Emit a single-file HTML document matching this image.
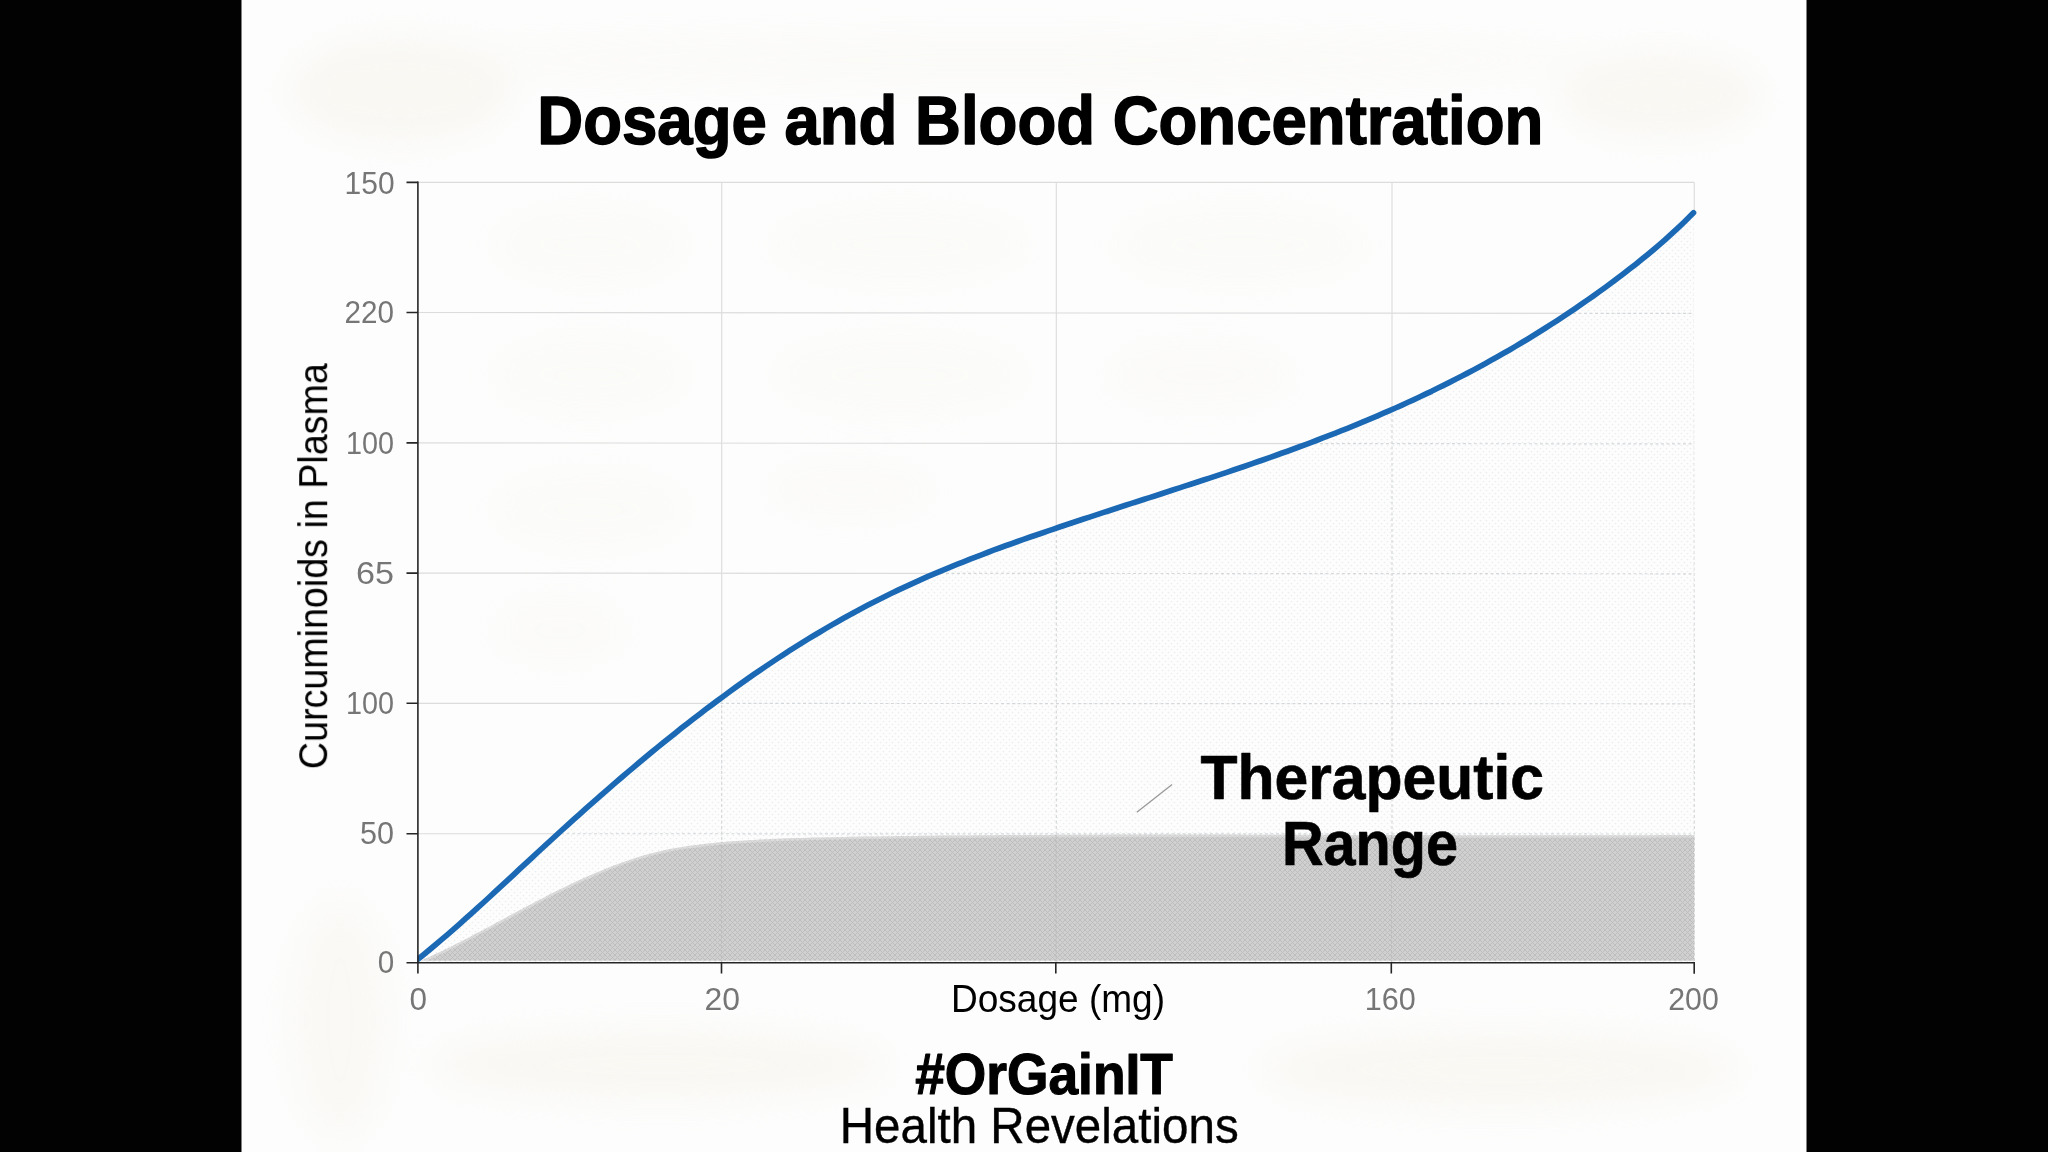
<!DOCTYPE html>
<html><head><meta charset="utf-8"><title>Dosage and Blood Concentration</title>
<style>
html,body{margin:0;padding:0;background:#020202;width:2048px;height:1152px;overflow:hidden}
svg{display:block;position:absolute;left:0;top:0}
text{font-family:"Liberation Sans",sans-serif}
.tick{font-size:32px;fill:#767676}
</style></head><body>
<svg width="2048" height="1152" viewBox="0 0 2048 1152">
<defs>
<pattern id="dots" width="6" height="6" patternUnits="userSpaceOnUse"><circle cx="1.5" cy="1.5" r="0.85" fill="#ebedee"/><circle cx="4.5" cy="4.5" r="0.85" fill="#ebedee"/></pattern>
<pattern id="hatch" width="5" height="5" patternUnits="userSpaceOnUse"><rect width="5" height="5" fill="#d0d0d0"/><path d="M0,0 L5,5 M5,0 L0,5" stroke="#bebebe" stroke-width="1"/></pattern>
<clipPath id="grayclip"><polygon points="418.0,961.9 424.0,959.3 430.0,956.6 436.0,953.8 442.0,950.9 448.0,948.0 454.0,945.0 460.0,942.0 466.0,938.9 472.0,935.7 478.0,932.6 484.0,929.4 490.0,926.2 496.0,922.9 502.0,919.7 508.0,916.5 514.0,913.2 520.0,910.0 526.0,906.8 532.0,903.7 538.0,900.5 544.0,897.4 550.0,894.3 556.0,891.3 562.0,888.4 568.0,885.4 574.0,882.6 580.0,879.8 586.0,877.1 592.0,874.4 598.0,871.9 604.0,869.4 610.0,867.0 616.0,864.7 622.0,862.5 628.0,860.4 634.0,858.4 640.0,856.5 646.0,854.8 652.0,853.2 658.0,851.7 664.0,850.3 670.0,849.1 676.0,847.9 682.0,846.9 688.0,846.0 694.0,845.2 700.0,844.4 706.0,843.8 712.0,843.2 718.0,842.6 724.0,842.1 730.0,841.6 736.0,841.1 742.0,840.7 748.0,840.3 754.0,840.0 760.0,839.6 766.0,839.3 772.0,839.0 778.0,838.8 784.0,838.5 790.0,838.3 796.0,838.1 802.0,837.9 808.0,837.7 814.0,837.6 820.0,837.4 826.0,837.3 832.0,837.2 838.0,837.1 844.0,836.9 850.0,836.8 856.0,836.7 862.0,836.6 868.0,836.6 874.0,836.5 880.0,836.4 886.0,836.3 892.0,836.2 898.0,836.1 904.0,836.1 910.0,836.0 916.0,835.9 922.0,835.8 928.0,835.8 934.0,835.7 940.0,835.6 946.0,835.6 952.0,835.5 958.0,835.5 964.0,835.4 970.0,835.4 976.0,835.3 982.0,835.3 988.0,835.2 994.0,835.2 1000.0,835.1 1006.0,835.1 1012.0,835.1 1018.0,835.0 1024.0,835.0 1030.0,834.9 1036.0,834.9 1042.0,834.9 1048.0,834.9 1054.0,834.8 1060.0,834.8 1066.0,834.8 1072.0,834.8 1078.0,834.7 1084.0,834.7 1090.0,834.7 1096.0,834.7 1102.0,834.7 1108.0,834.7 1114.0,834.6 1120.0,834.6 1126.0,834.6 1132.0,834.6 1138.0,834.6 1144.0,834.6 1150.0,834.6 1156.0,834.6 1162.0,834.6 1168.0,834.6 1174.0,834.6 1180.0,834.6 1186.0,834.6 1192.0,834.6 1198.0,834.6 1204.0,834.6 1210.0,834.6 1216.0,834.6 1222.0,834.6 1228.0,834.6 1234.0,834.6 1240.0,834.6 1246.0,834.7 1252.0,834.7 1258.0,834.7 1264.0,834.7 1270.0,834.7 1276.0,834.7 1282.0,834.7 1288.0,834.7 1294.0,834.8 1300.0,834.8 1306.0,834.8 1312.0,834.8 1318.0,834.8 1324.0,834.8 1330.0,834.8 1336.0,834.9 1342.0,834.9 1348.0,834.9 1354.0,834.9 1360.0,834.9 1366.0,834.9 1372.0,835.0 1378.0,835.0 1384.0,835.0 1390.0,835.0 1396.0,835.0 1402.0,835.0 1408.0,835.1 1414.0,835.1 1420.0,835.1 1426.0,835.1 1432.0,835.1 1438.0,835.1 1444.0,835.1 1450.0,835.2 1456.0,835.2 1462.0,835.2 1468.0,835.2 1474.0,835.2 1480.0,835.2 1486.0,835.2 1492.0,835.2 1498.0,835.2 1504.0,835.3 1510.0,835.3 1516.0,835.3 1522.0,835.3 1528.0,835.3 1534.0,835.3 1540.0,835.3 1546.0,835.3 1552.0,835.3 1558.0,835.3 1564.0,835.3 1570.0,835.3 1576.0,835.3 1582.0,835.3 1588.0,835.3 1594.0,835.3 1600.0,835.3 1606.0,835.3 1612.0,835.3 1618.0,835.2 1624.0,835.2 1630.0,835.2 1636.0,835.2 1642.0,835.2 1648.0,835.2 1654.0,835.2 1660.0,835.1 1666.0,835.1 1672.0,835.1 1678.0,835.1 1684.0,835.0 1690.0,835.0 1694.3,835.0 1694.3,962 418,962"/></clipPath>
<clipPath id="below"><polygon points="417.5,958.9 423.5,954.1 429.5,949.1 435.5,944.1 441.5,939.0 447.5,933.9 453.5,928.6 459.5,923.4 465.5,918.0 471.5,912.6 477.5,907.2 483.5,901.8 489.5,896.3 495.5,890.7 501.5,885.2 507.5,879.7 513.5,874.1 519.5,868.5 525.5,862.9 531.5,857.4 537.5,851.8 543.5,846.3 549.5,840.8 555.5,835.3 561.5,829.8 567.5,824.4 573.5,819.0 579.5,813.6 585.5,808.2 591.5,802.9 597.5,797.6 603.5,792.4 609.5,787.2 615.5,782.0 621.5,776.8 627.5,771.7 633.5,766.6 639.5,761.6 645.5,756.6 651.5,751.6 657.5,746.7 663.5,741.8 669.5,737.0 675.5,732.2 681.5,727.4 687.5,722.7 693.5,718.1 699.5,713.5 705.5,708.9 711.5,704.4 717.5,699.9 723.5,695.5 729.5,691.1 735.5,686.7 741.5,682.5 747.5,678.2 753.5,674.0 759.5,669.9 765.5,665.8 771.5,661.8 777.5,657.8 783.5,653.9 789.5,650.0 795.5,646.2 801.5,642.4 807.5,638.7 813.5,635.1 819.5,631.5 825.5,627.9 831.5,624.4 837.5,621.0 843.5,617.6 849.5,614.3 855.5,611.0 861.5,607.8 867.5,604.6 873.5,601.5 879.5,598.5 885.5,595.5 891.5,592.6 897.5,589.7 903.5,586.9 909.5,584.1 915.5,581.4 921.5,578.7 927.5,576.0 933.5,573.5 939.5,570.9 945.5,568.4 951.5,565.9 957.5,563.5 963.5,561.1 969.5,558.7 975.5,556.4 981.5,554.1 987.5,551.8 993.5,549.5 999.5,547.3 1005.5,545.1 1011.5,543.0 1017.5,540.8 1023.5,538.7 1029.5,536.6 1035.5,534.5 1041.5,532.5 1047.5,530.4 1053.5,528.4 1059.5,526.3 1065.5,524.3 1071.5,522.3 1077.5,520.3 1083.5,518.3 1089.5,516.4 1095.5,514.4 1101.5,512.4 1107.5,510.5 1113.5,508.5 1119.5,506.6 1125.5,504.6 1131.5,502.7 1137.5,500.8 1143.5,498.8 1149.5,496.9 1155.5,495.0 1161.5,493.0 1167.5,491.1 1173.5,489.1 1179.5,487.2 1185.5,485.2 1191.5,483.3 1197.5,481.3 1203.5,479.3 1209.5,477.4 1215.5,475.4 1221.5,473.4 1227.5,471.4 1233.5,469.3 1239.5,467.3 1245.5,465.3 1251.5,463.2 1257.5,461.1 1263.5,459.0 1269.5,456.9 1275.5,454.8 1281.5,452.6 1287.5,450.5 1293.5,448.3 1299.5,446.1 1305.5,443.9 1311.5,441.6 1317.5,439.3 1323.5,437.0 1329.5,434.7 1335.5,432.4 1341.5,430.0 1347.5,427.6 1353.5,425.2 1359.5,422.7 1365.5,420.2 1371.5,417.7 1377.5,415.1 1383.5,412.5 1389.5,409.9 1395.5,407.3 1401.5,404.6 1407.5,401.8 1413.5,399.1 1419.5,396.3 1425.5,393.4 1431.5,390.6 1437.5,387.6 1443.5,384.7 1449.5,381.7 1455.5,378.6 1461.5,375.5 1467.5,372.4 1473.5,369.2 1479.5,366.0 1485.5,362.7 1491.5,359.4 1497.5,356.0 1503.5,352.6 1509.5,349.2 1515.5,345.7 1521.5,342.1 1527.5,338.5 1533.5,334.8 1539.5,331.1 1545.5,327.3 1551.5,323.5 1557.5,319.6 1563.5,315.7 1569.5,311.7 1575.5,307.6 1581.5,303.5 1587.5,299.3 1593.5,295.1 1599.5,290.8 1605.5,286.5 1611.5,282.1 1617.5,277.6 1623.5,273.0 1629.5,268.4 1635.5,263.7 1641.5,258.9 1647.5,254.0 1653.5,249.0 1659.5,243.9 1665.5,238.6 1671.5,233.2 1677.5,227.7 1683.5,222.0 1689.5,216.1 1693.5,212.1 1696,962 418,962"/></clipPath>
<clipPath id="above"><polygon points="417.5,958.9 423.5,954.1 429.5,949.1 435.5,944.1 441.5,939.0 447.5,933.9 453.5,928.6 459.5,923.4 465.5,918.0 471.5,912.6 477.5,907.2 483.5,901.8 489.5,896.3 495.5,890.7 501.5,885.2 507.5,879.7 513.5,874.1 519.5,868.5 525.5,862.9 531.5,857.4 537.5,851.8 543.5,846.3 549.5,840.8 555.5,835.3 561.5,829.8 567.5,824.4 573.5,819.0 579.5,813.6 585.5,808.2 591.5,802.9 597.5,797.6 603.5,792.4 609.5,787.2 615.5,782.0 621.5,776.8 627.5,771.7 633.5,766.6 639.5,761.6 645.5,756.6 651.5,751.6 657.5,746.7 663.5,741.8 669.5,737.0 675.5,732.2 681.5,727.4 687.5,722.7 693.5,718.1 699.5,713.5 705.5,708.9 711.5,704.4 717.5,699.9 723.5,695.5 729.5,691.1 735.5,686.7 741.5,682.5 747.5,678.2 753.5,674.0 759.5,669.9 765.5,665.8 771.5,661.8 777.5,657.8 783.5,653.9 789.5,650.0 795.5,646.2 801.5,642.4 807.5,638.7 813.5,635.1 819.5,631.5 825.5,627.9 831.5,624.4 837.5,621.0 843.5,617.6 849.5,614.3 855.5,611.0 861.5,607.8 867.5,604.6 873.5,601.5 879.5,598.5 885.5,595.5 891.5,592.6 897.5,589.7 903.5,586.9 909.5,584.1 915.5,581.4 921.5,578.7 927.5,576.0 933.5,573.5 939.5,570.9 945.5,568.4 951.5,565.9 957.5,563.5 963.5,561.1 969.5,558.7 975.5,556.4 981.5,554.1 987.5,551.8 993.5,549.5 999.5,547.3 1005.5,545.1 1011.5,543.0 1017.5,540.8 1023.5,538.7 1029.5,536.6 1035.5,534.5 1041.5,532.5 1047.5,530.4 1053.5,528.4 1059.5,526.3 1065.5,524.3 1071.5,522.3 1077.5,520.3 1083.5,518.3 1089.5,516.4 1095.5,514.4 1101.5,512.4 1107.5,510.5 1113.5,508.5 1119.5,506.6 1125.5,504.6 1131.5,502.7 1137.5,500.8 1143.5,498.8 1149.5,496.9 1155.5,495.0 1161.5,493.0 1167.5,491.1 1173.5,489.1 1179.5,487.2 1185.5,485.2 1191.5,483.3 1197.5,481.3 1203.5,479.3 1209.5,477.4 1215.5,475.4 1221.5,473.4 1227.5,471.4 1233.5,469.3 1239.5,467.3 1245.5,465.3 1251.5,463.2 1257.5,461.1 1263.5,459.0 1269.5,456.9 1275.5,454.8 1281.5,452.6 1287.5,450.5 1293.5,448.3 1299.5,446.1 1305.5,443.9 1311.5,441.6 1317.5,439.3 1323.5,437.0 1329.5,434.7 1335.5,432.4 1341.5,430.0 1347.5,427.6 1353.5,425.2 1359.5,422.7 1365.5,420.2 1371.5,417.7 1377.5,415.1 1383.5,412.5 1389.5,409.9 1395.5,407.3 1401.5,404.6 1407.5,401.8 1413.5,399.1 1419.5,396.3 1425.5,393.4 1431.5,390.6 1437.5,387.6 1443.5,384.7 1449.5,381.7 1455.5,378.6 1461.5,375.5 1467.5,372.4 1473.5,369.2 1479.5,366.0 1485.5,362.7 1491.5,359.4 1497.5,356.0 1503.5,352.6 1509.5,349.2 1515.5,345.7 1521.5,342.1 1527.5,338.5 1533.5,334.8 1539.5,331.1 1545.5,327.3 1551.5,323.5 1557.5,319.6 1563.5,315.7 1569.5,311.7 1575.5,307.6 1581.5,303.5 1587.5,299.3 1593.5,295.1 1599.5,290.8 1605.5,286.5 1611.5,282.1 1617.5,277.6 1623.5,273.0 1629.5,268.4 1635.5,263.7 1641.5,258.9 1647.5,254.0 1653.5,249.0 1659.5,243.9 1665.5,238.6 1671.5,233.2 1677.5,227.7 1683.5,222.0 1689.5,216.1 1693.5,212.1 1696,212 1696,170 400,170 400,962 418,962"/></clipPath>
<filter id="blur" x="-50%" y="-50%" width="200%" height="200%"><feGaussianBlur stdDeviation="18"/></filter>
<clipPath id="plotclip"><rect x="417.4" y="150" width="1300" height="812.4"/></clipPath>
</defs>
<rect x="0" y="0" width="2048" height="1152" fill="#020202"/>
<rect x="241.5" y="0" width="1565" height="1152" fill="#fdfdfd"/>
<!-- faint paper blotches -->
<g filter="url(#blur)" fill="#f3efe2" opacity="0.38">
<ellipse cx="400" cy="90" rx="110" ry="50"/>
<ellipse cx="1660" cy="95" rx="100" ry="40"/>
<ellipse cx="1000" cy="60" rx="600" ry="22" opacity="0.5"/>
<ellipse cx="340" cy="1020" rx="50" ry="120" opacity="0.7"/>
<ellipse cx="660" cy="1065" rx="230" ry="32"/>
<ellipse cx="1500" cy="1070" rx="240" ry="35"/>
<ellipse cx="590" cy="245" rx="100" ry="38" opacity="0.4"/>
<ellipse cx="900" cy="245" rx="130" ry="38" opacity="0.4"/>
<ellipse cx="1240" cy="245" rx="130" ry="38" opacity="0.4"/>
<ellipse cx="590" cy="375" rx="100" ry="38" opacity="0.4"/>
<ellipse cx="900" cy="375" rx="130" ry="38" opacity="0.4"/>
<ellipse cx="1200" cy="375" rx="100" ry="35" opacity="0.35"/>
<ellipse cx="590" cy="510" rx="100" ry="38" opacity="0.4"/>
<ellipse cx="850" cy="490" rx="90" ry="30" opacity="0.35"/>
<ellipse cx="560" cy="630" rx="70" ry="35" opacity="0.35"/>
</g>
<!-- dotted fill under curve -->
<polygon points="417.5,958.9 423.5,954.1 429.5,949.1 435.5,944.1 441.5,939.0 447.5,933.9 453.5,928.6 459.5,923.4 465.5,918.0 471.5,912.6 477.5,907.2 483.5,901.8 489.5,896.3 495.5,890.7 501.5,885.2 507.5,879.7 513.5,874.1 519.5,868.5 525.5,862.9 531.5,857.4 537.5,851.8 543.5,846.3 549.5,840.8 555.5,835.3 561.5,829.8 567.5,824.4 573.5,819.0 579.5,813.6 585.5,808.2 591.5,802.9 597.5,797.6 603.5,792.4 609.5,787.2 615.5,782.0 621.5,776.8 627.5,771.7 633.5,766.6 639.5,761.6 645.5,756.6 651.5,751.6 657.5,746.7 663.5,741.8 669.5,737.0 675.5,732.2 681.5,727.4 687.5,722.7 693.5,718.1 699.5,713.5 705.5,708.9 711.5,704.4 717.5,699.9 723.5,695.5 729.5,691.1 735.5,686.7 741.5,682.5 747.5,678.2 753.5,674.0 759.5,669.9 765.5,665.8 771.5,661.8 777.5,657.8 783.5,653.9 789.5,650.0 795.5,646.2 801.5,642.4 807.5,638.7 813.5,635.1 819.5,631.5 825.5,627.9 831.5,624.4 837.5,621.0 843.5,617.6 849.5,614.3 855.5,611.0 861.5,607.8 867.5,604.6 873.5,601.5 879.5,598.5 885.5,595.5 891.5,592.6 897.5,589.7 903.5,586.9 909.5,584.1 915.5,581.4 921.5,578.7 927.5,576.0 933.5,573.5 939.5,570.9 945.5,568.4 951.5,565.9 957.5,563.5 963.5,561.1 969.5,558.7 975.5,556.4 981.5,554.1 987.5,551.8 993.5,549.5 999.5,547.3 1005.5,545.1 1011.5,543.0 1017.5,540.8 1023.5,538.7 1029.5,536.6 1035.5,534.5 1041.5,532.5 1047.5,530.4 1053.5,528.4 1059.5,526.3 1065.5,524.3 1071.5,522.3 1077.5,520.3 1083.5,518.3 1089.5,516.4 1095.5,514.4 1101.5,512.4 1107.5,510.5 1113.5,508.5 1119.5,506.6 1125.5,504.6 1131.5,502.7 1137.5,500.8 1143.5,498.8 1149.5,496.9 1155.5,495.0 1161.5,493.0 1167.5,491.1 1173.5,489.1 1179.5,487.2 1185.5,485.2 1191.5,483.3 1197.5,481.3 1203.5,479.3 1209.5,477.4 1215.5,475.4 1221.5,473.4 1227.5,471.4 1233.5,469.3 1239.5,467.3 1245.5,465.3 1251.5,463.2 1257.5,461.1 1263.5,459.0 1269.5,456.9 1275.5,454.8 1281.5,452.6 1287.5,450.5 1293.5,448.3 1299.5,446.1 1305.5,443.9 1311.5,441.6 1317.5,439.3 1323.5,437.0 1329.5,434.7 1335.5,432.4 1341.5,430.0 1347.5,427.6 1353.5,425.2 1359.5,422.7 1365.5,420.2 1371.5,417.7 1377.5,415.1 1383.5,412.5 1389.5,409.9 1395.5,407.3 1401.5,404.6 1407.5,401.8 1413.5,399.1 1419.5,396.3 1425.5,393.4 1431.5,390.6 1437.5,387.6 1443.5,384.7 1449.5,381.7 1455.5,378.6 1461.5,375.5 1467.5,372.4 1473.5,369.2 1479.5,366.0 1485.5,362.7 1491.5,359.4 1497.5,356.0 1503.5,352.6 1509.5,349.2 1515.5,345.7 1521.5,342.1 1527.5,338.5 1533.5,334.8 1539.5,331.1 1545.5,327.3 1551.5,323.5 1557.5,319.6 1563.5,315.7 1569.5,311.7 1575.5,307.6 1581.5,303.5 1587.5,299.3 1593.5,295.1 1599.5,290.8 1605.5,286.5 1611.5,282.1 1617.5,277.6 1623.5,273.0 1629.5,268.4 1635.5,263.7 1641.5,258.9 1647.5,254.0 1653.5,249.0 1659.5,243.9 1665.5,238.6 1671.5,233.2 1677.5,227.7 1683.5,222.0 1689.5,216.1 1693.5,212.1 1694.3,962 418,962" fill="url(#dots)"/>
<!-- grid -->
<g stroke="#dcdcdc" stroke-width="1.15" fill="none" clip-path="url(#above)">
<path d="M418,182.4H1694.3 M418,312.5L1694.3,313.4 M418,442.9L1694.3,443.9 M418,573.1L1694.3,573.8 M418,703.3L1694.3,703.8 M418,833.7L1694.3,834"/>
<path d="M721.7,182.4V962 M1056.3,182.4V962 M1392,182.4V962 M1694.3,182.4V962"/>
</g>
<g stroke="#d4d8da" stroke-width="1.2" fill="none" stroke-dasharray="3 2.5" clip-path="url(#below)">
<path d="M418,312.5L1694.3,313.4 M418,442.9L1694.3,443.9 M418,573.1L1694.3,573.8 M418,703.3L1694.3,703.8 M418,833.7L1694.3,834"/>
<path d="M721.7,182.4V962 M1056.3,182.4V962 M1392,182.4V962 M1694.3,182.4V962"/>
</g>
<!-- gray range -->
<polygon points="418.0,961.9 424.0,959.3 430.0,956.6 436.0,953.8 442.0,950.9 448.0,948.0 454.0,945.0 460.0,942.0 466.0,938.9 472.0,935.7 478.0,932.6 484.0,929.4 490.0,926.2 496.0,922.9 502.0,919.7 508.0,916.5 514.0,913.2 520.0,910.0 526.0,906.8 532.0,903.7 538.0,900.5 544.0,897.4 550.0,894.3 556.0,891.3 562.0,888.4 568.0,885.4 574.0,882.6 580.0,879.8 586.0,877.1 592.0,874.4 598.0,871.9 604.0,869.4 610.0,867.0 616.0,864.7 622.0,862.5 628.0,860.4 634.0,858.4 640.0,856.5 646.0,854.8 652.0,853.2 658.0,851.7 664.0,850.3 670.0,849.1 676.0,847.9 682.0,846.9 688.0,846.0 694.0,845.2 700.0,844.4 706.0,843.8 712.0,843.2 718.0,842.6 724.0,842.1 730.0,841.6 736.0,841.1 742.0,840.7 748.0,840.3 754.0,840.0 760.0,839.6 766.0,839.3 772.0,839.0 778.0,838.8 784.0,838.5 790.0,838.3 796.0,838.1 802.0,837.9 808.0,837.7 814.0,837.6 820.0,837.4 826.0,837.3 832.0,837.2 838.0,837.1 844.0,836.9 850.0,836.8 856.0,836.7 862.0,836.6 868.0,836.6 874.0,836.5 880.0,836.4 886.0,836.3 892.0,836.2 898.0,836.1 904.0,836.1 910.0,836.0 916.0,835.9 922.0,835.8 928.0,835.8 934.0,835.7 940.0,835.6 946.0,835.6 952.0,835.5 958.0,835.5 964.0,835.4 970.0,835.4 976.0,835.3 982.0,835.3 988.0,835.2 994.0,835.2 1000.0,835.1 1006.0,835.1 1012.0,835.1 1018.0,835.0 1024.0,835.0 1030.0,834.9 1036.0,834.9 1042.0,834.9 1048.0,834.9 1054.0,834.8 1060.0,834.8 1066.0,834.8 1072.0,834.8 1078.0,834.7 1084.0,834.7 1090.0,834.7 1096.0,834.7 1102.0,834.7 1108.0,834.7 1114.0,834.6 1120.0,834.6 1126.0,834.6 1132.0,834.6 1138.0,834.6 1144.0,834.6 1150.0,834.6 1156.0,834.6 1162.0,834.6 1168.0,834.6 1174.0,834.6 1180.0,834.6 1186.0,834.6 1192.0,834.6 1198.0,834.6 1204.0,834.6 1210.0,834.6 1216.0,834.6 1222.0,834.6 1228.0,834.6 1234.0,834.6 1240.0,834.6 1246.0,834.7 1252.0,834.7 1258.0,834.7 1264.0,834.7 1270.0,834.7 1276.0,834.7 1282.0,834.7 1288.0,834.7 1294.0,834.8 1300.0,834.8 1306.0,834.8 1312.0,834.8 1318.0,834.8 1324.0,834.8 1330.0,834.8 1336.0,834.9 1342.0,834.9 1348.0,834.9 1354.0,834.9 1360.0,834.9 1366.0,834.9 1372.0,835.0 1378.0,835.0 1384.0,835.0 1390.0,835.0 1396.0,835.0 1402.0,835.0 1408.0,835.1 1414.0,835.1 1420.0,835.1 1426.0,835.1 1432.0,835.1 1438.0,835.1 1444.0,835.1 1450.0,835.2 1456.0,835.2 1462.0,835.2 1468.0,835.2 1474.0,835.2 1480.0,835.2 1486.0,835.2 1492.0,835.2 1498.0,835.2 1504.0,835.3 1510.0,835.3 1516.0,835.3 1522.0,835.3 1528.0,835.3 1534.0,835.3 1540.0,835.3 1546.0,835.3 1552.0,835.3 1558.0,835.3 1564.0,835.3 1570.0,835.3 1576.0,835.3 1582.0,835.3 1588.0,835.3 1594.0,835.3 1600.0,835.3 1606.0,835.3 1612.0,835.3 1618.0,835.2 1624.0,835.2 1630.0,835.2 1636.0,835.2 1642.0,835.2 1648.0,835.2 1654.0,835.2 1660.0,835.1 1666.0,835.1 1672.0,835.1 1678.0,835.1 1684.0,835.0 1690.0,835.0 1694.3,835.0 1694.3,960.7 418,960.7" fill="url(#hatch)"/>
<polyline points="418.0,961.9 424.0,959.3 430.0,956.6 436.0,953.8 442.0,950.9 448.0,948.0 454.0,945.0 460.0,942.0 466.0,938.9 472.0,935.7 478.0,932.6 484.0,929.4 490.0,926.2 496.0,922.9 502.0,919.7 508.0,916.5 514.0,913.2 520.0,910.0 526.0,906.8 532.0,903.7 538.0,900.5 544.0,897.4 550.0,894.3 556.0,891.3 562.0,888.4 568.0,885.4 574.0,882.6 580.0,879.8 586.0,877.1 592.0,874.4 598.0,871.9 604.0,869.4 610.0,867.0 616.0,864.7 622.0,862.5 628.0,860.4 634.0,858.4 640.0,856.5 646.0,854.8 652.0,853.2 658.0,851.7 664.0,850.3 670.0,849.1 676.0,847.9 682.0,846.9 688.0,846.0 694.0,845.2 700.0,844.4 706.0,843.8 712.0,843.2 718.0,842.6 724.0,842.1 730.0,841.6 736.0,841.1 742.0,840.7 748.0,840.3 754.0,840.0 760.0,839.6 766.0,839.3 772.0,839.0 778.0,838.8 784.0,838.5 790.0,838.3 796.0,838.1 802.0,837.9 808.0,837.7 814.0,837.6 820.0,837.4 826.0,837.3 832.0,837.2 838.0,837.1 844.0,836.9 850.0,836.8 856.0,836.7 862.0,836.6 868.0,836.6 874.0,836.5 880.0,836.4 886.0,836.3 892.0,836.2 898.0,836.1 904.0,836.1 910.0,836.0 916.0,835.9 922.0,835.8 928.0,835.8 934.0,835.7 940.0,835.6 946.0,835.6 952.0,835.5 958.0,835.5 964.0,835.4 970.0,835.4 976.0,835.3 982.0,835.3 988.0,835.2 994.0,835.2 1000.0,835.1 1006.0,835.1 1012.0,835.1 1018.0,835.0 1024.0,835.0 1030.0,834.9 1036.0,834.9 1042.0,834.9 1048.0,834.9 1054.0,834.8 1060.0,834.8 1066.0,834.8 1072.0,834.8 1078.0,834.7 1084.0,834.7 1090.0,834.7 1096.0,834.7 1102.0,834.7 1108.0,834.7 1114.0,834.6 1120.0,834.6 1126.0,834.6 1132.0,834.6 1138.0,834.6 1144.0,834.6 1150.0,834.6 1156.0,834.6 1162.0,834.6 1168.0,834.6 1174.0,834.6 1180.0,834.6 1186.0,834.6 1192.0,834.6 1198.0,834.6 1204.0,834.6 1210.0,834.6 1216.0,834.6 1222.0,834.6 1228.0,834.6 1234.0,834.6 1240.0,834.6 1246.0,834.7 1252.0,834.7 1258.0,834.7 1264.0,834.7 1270.0,834.7 1276.0,834.7 1282.0,834.7 1288.0,834.7 1294.0,834.8 1300.0,834.8 1306.0,834.8 1312.0,834.8 1318.0,834.8 1324.0,834.8 1330.0,834.8 1336.0,834.9 1342.0,834.9 1348.0,834.9 1354.0,834.9 1360.0,834.9 1366.0,834.9 1372.0,835.0 1378.0,835.0 1384.0,835.0 1390.0,835.0 1396.0,835.0 1402.0,835.0 1408.0,835.1 1414.0,835.1 1420.0,835.1 1426.0,835.1 1432.0,835.1 1438.0,835.1 1444.0,835.1 1450.0,835.2 1456.0,835.2 1462.0,835.2 1468.0,835.2 1474.0,835.2 1480.0,835.2 1486.0,835.2 1492.0,835.2 1498.0,835.2 1504.0,835.3 1510.0,835.3 1516.0,835.3 1522.0,835.3 1528.0,835.3 1534.0,835.3 1540.0,835.3 1546.0,835.3 1552.0,835.3 1558.0,835.3 1564.0,835.3 1570.0,835.3 1576.0,835.3 1582.0,835.3 1588.0,835.3 1594.0,835.3 1600.0,835.3 1606.0,835.3 1612.0,835.3 1618.0,835.2 1624.0,835.2 1630.0,835.2 1636.0,835.2 1642.0,835.2 1648.0,835.2 1654.0,835.2 1660.0,835.1 1666.0,835.1 1672.0,835.1 1678.0,835.1 1684.0,835.0 1690.0,835.0 1694.3,835.0" fill="none" stroke="#ffffff" stroke-opacity="0.28" stroke-width="5" clip-path="url(#grayclip)"/>
<g stroke="#b6b8b8" stroke-width="1.1" fill="none" stroke-dasharray="3 2" clip-path="url(#grayclip)" opacity="0.75">
<path d="M721.7,830V962 M1056,830V962 M1391.6,830V962"/>
</g>
<!-- curve -->
<g clip-path="url(#plotclip)"><polyline transform="translate(0,0.7)" points="417.5,958.9 423.5,954.1 429.5,949.1 435.5,944.1 441.5,939.0 447.5,933.9 453.5,928.6 459.5,923.4 465.5,918.0 471.5,912.6 477.5,907.2 483.5,901.8 489.5,896.3 495.5,890.7 501.5,885.2 507.5,879.7 513.5,874.1 519.5,868.5 525.5,862.9 531.5,857.4 537.5,851.8 543.5,846.3 549.5,840.8 555.5,835.3 561.5,829.8 567.5,824.4 573.5,819.0 579.5,813.6 585.5,808.2 591.5,802.9 597.5,797.6 603.5,792.4 609.5,787.2 615.5,782.0 621.5,776.8 627.5,771.7 633.5,766.6 639.5,761.6 645.5,756.6 651.5,751.6 657.5,746.7 663.5,741.8 669.5,737.0 675.5,732.2 681.5,727.4 687.5,722.7 693.5,718.1 699.5,713.5 705.5,708.9 711.5,704.4 717.5,699.9 723.5,695.5 729.5,691.1 735.5,686.7 741.5,682.5 747.5,678.2 753.5,674.0 759.5,669.9 765.5,665.8 771.5,661.8 777.5,657.8 783.5,653.9 789.5,650.0 795.5,646.2 801.5,642.4 807.5,638.7 813.5,635.1 819.5,631.5 825.5,627.9 831.5,624.4 837.5,621.0 843.5,617.6 849.5,614.3 855.5,611.0 861.5,607.8 867.5,604.6 873.5,601.5 879.5,598.5 885.5,595.5 891.5,592.6 897.5,589.7 903.5,586.9 909.5,584.1 915.5,581.4 921.5,578.7 927.5,576.0 933.5,573.5 939.5,570.9 945.5,568.4 951.5,565.9 957.5,563.5 963.5,561.1 969.5,558.7 975.5,556.4 981.5,554.1 987.5,551.8 993.5,549.5 999.5,547.3 1005.5,545.1 1011.5,543.0 1017.5,540.8 1023.5,538.7 1029.5,536.6 1035.5,534.5 1041.5,532.5 1047.5,530.4 1053.5,528.4 1059.5,526.3 1065.5,524.3 1071.5,522.3 1077.5,520.3 1083.5,518.3 1089.5,516.4 1095.5,514.4 1101.5,512.4 1107.5,510.5 1113.5,508.5 1119.5,506.6 1125.5,504.6 1131.5,502.7 1137.5,500.8 1143.5,498.8 1149.5,496.9 1155.5,495.0 1161.5,493.0 1167.5,491.1 1173.5,489.1 1179.5,487.2 1185.5,485.2 1191.5,483.3 1197.5,481.3 1203.5,479.3 1209.5,477.4 1215.5,475.4 1221.5,473.4 1227.5,471.4 1233.5,469.3 1239.5,467.3 1245.5,465.3 1251.5,463.2 1257.5,461.1 1263.5,459.0 1269.5,456.9 1275.5,454.8 1281.5,452.6 1287.5,450.5 1293.5,448.3 1299.5,446.1 1305.5,443.9 1311.5,441.6 1317.5,439.3 1323.5,437.0 1329.5,434.7 1335.5,432.4 1341.5,430.0 1347.5,427.6 1353.5,425.2 1359.5,422.7 1365.5,420.2 1371.5,417.7 1377.5,415.1 1383.5,412.5 1389.5,409.9 1395.5,407.3 1401.5,404.6 1407.5,401.8 1413.5,399.1 1419.5,396.3 1425.5,393.4 1431.5,390.6 1437.5,387.6 1443.5,384.7 1449.5,381.7 1455.5,378.6 1461.5,375.5 1467.5,372.4 1473.5,369.2 1479.5,366.0 1485.5,362.7 1491.5,359.4 1497.5,356.0 1503.5,352.6 1509.5,349.2 1515.5,345.7 1521.5,342.1 1527.5,338.5 1533.5,334.8 1539.5,331.1 1545.5,327.3 1551.5,323.5 1557.5,319.6 1563.5,315.7 1569.5,311.7 1575.5,307.6 1581.5,303.5 1587.5,299.3 1593.5,295.1 1599.5,290.8 1605.5,286.5 1611.5,282.1 1617.5,277.6 1623.5,273.0 1629.5,268.4 1635.5,263.7 1641.5,258.9 1647.5,254.0 1653.5,249.0 1659.5,243.9 1665.5,238.6 1671.5,233.2 1677.5,227.7 1683.5,222.0 1689.5,216.1 1693.5,212.1" fill="none" stroke="#1b69b4" stroke-width="5.7" stroke-linecap="round" stroke-linejoin="round"/></g>
<!-- axes -->
<g stroke="#262626" stroke-width="1.6" fill="none">
<path d="M417.9,181.6V973.6 M406.5,962.8H1695"/>
<path d="M406.5,182.4H418 M406.5,312.5H418 M406.5,442.9H418 M406.5,573.1H418 M406.5,703.3H418 M406.5,833.7H418"/>
<path d="M721.5,962V973.6 M1055.8,962V973.6 M1391.3,962V973.6 M1694.2,962V973.8"/>
</g>
<!-- small pointer -->
<path d="M1136.8,812.3L1172.1,784.5" stroke="#969696" stroke-width="1.2"/>
<!-- y tick labels -->
<g class="tick" text-anchor="end" lengthAdjust="spacingAndGlyphs">
<text x="394.6" y="193.6" textLength="50" lengthAdjust="spacingAndGlyphs">150</text>
<text x="394" y="323.4" textLength="49.5" lengthAdjust="spacingAndGlyphs">220</text>
<text x="394" y="453.5" textLength="48" lengthAdjust="spacingAndGlyphs">100</text>
<text x="394" y="583.8" textLength="38" lengthAdjust="spacingAndGlyphs">65</text>
<text x="394" y="714" textLength="48" lengthAdjust="spacingAndGlyphs">100</text>
<text x="394" y="844.4" textLength="34" lengthAdjust="spacingAndGlyphs">50</text>
<text x="394.2" y="973" textLength="16.5" lengthAdjust="spacingAndGlyphs">0</text>
</g>
<g class="tick" text-anchor="middle">
<text x="418.2" y="1009.7" textLength="17.5" lengthAdjust="spacingAndGlyphs">0</text>
<text x="722.2" y="1010.1" textLength="35.5" lengthAdjust="spacingAndGlyphs">20</text>
<text x="1390.2" y="1010.1" textLength="51" lengthAdjust="spacingAndGlyphs">160</text>
<text x="1693.5" y="1010.0" textLength="50.5" lengthAdjust="spacingAndGlyphs">200</text>
</g>
<text x="1058" y="1011.9" text-anchor="middle" font-size="38.3" fill="#000" textLength="214" lengthAdjust="spacingAndGlyphs">Dosage (mg)</text>
<text transform="translate(327.2,566.2) rotate(-90)" text-anchor="middle" font-size="41" fill="#000" textLength="406" lengthAdjust="spacingAndGlyphs">Curcuminoids in Plasma</text>
<text x="1040.3" y="144.3" text-anchor="middle" font-size="68.4" font-weight="bold" fill="#000" stroke="#000" stroke-width="1.5" stroke-linejoin="round" textLength="1006" lengthAdjust="spacingAndGlyphs">Dosage and Blood Concentration</text>
<text x="1372.3" y="798.8" text-anchor="middle" font-size="63" font-weight="bold" fill="#000" stroke="#000" stroke-width="0.7" stroke-linejoin="round" textLength="343.5" lengthAdjust="spacingAndGlyphs">Therapeutic</text>
<text x="1370" y="864.6" text-anchor="middle" font-size="63" font-weight="bold" fill="#000" stroke="#000" stroke-width="0.7" stroke-linejoin="round" textLength="176" lengthAdjust="spacingAndGlyphs">Range</text>
<text x="1044" y="1094.3" text-anchor="middle" font-size="57.5" font-weight="bold" fill="#000" stroke="#000" stroke-width="1.2" stroke-linejoin="round" textLength="257.5" lengthAdjust="spacingAndGlyphs">#OrGainIT</text>
<text x="1039.2" y="1142.7" text-anchor="middle" font-size="49.3" fill="#000" stroke="#000" stroke-width="0.4" textLength="399" lengthAdjust="spacingAndGlyphs">Health Revelations</text>
</svg>
</body></html>
